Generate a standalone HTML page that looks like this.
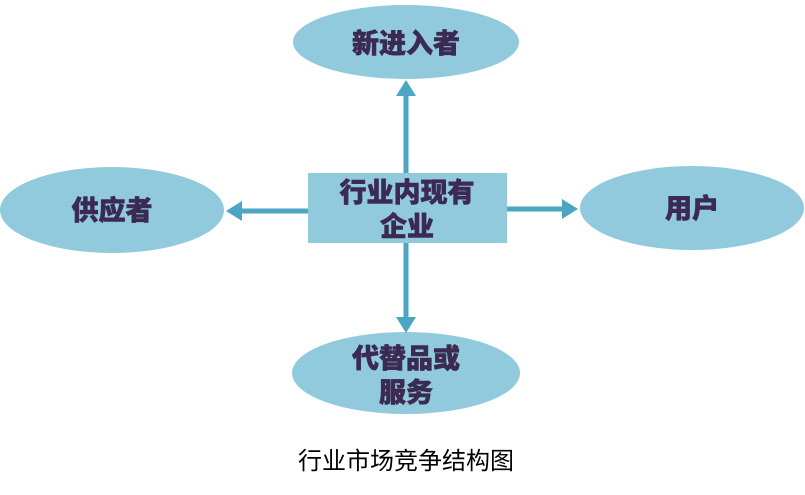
<!DOCTYPE html>
<html><head><meta charset="utf-8"><style>
body{margin:0;background:#fff;width:805px;height:490px;overflow:hidden}
svg text{font-family:"Liberation Sans","Noto Sans CJK SC",sans-serif;font-weight:900;fill:#3b2a52;font-size:27px;text-anchor:middle;stroke:#3b2a52;stroke-width:0.6}
</style></head><body>
<svg width="805" height="490" viewBox="0 0 805 490">
<defs><marker id="a" markerWidth="4" markerHeight="4" refX="2" refY="2" orient="auto" markerUnits="strokeWidth"><path d="M0,0 L3.2,2 L0,4 Z" fill="#4aa6c2"/></marker></defs>
<g fill="#92cadd">
<ellipse cx="406" cy="42" rx="113" ry="37"/>
<ellipse cx="112" cy="210" rx="112" ry="43"/>
<ellipse cx="692" cy="208" rx="112" ry="42"/>
<ellipse cx="406" cy="373" rx="114" ry="41"/>
<rect x="308" y="173" width="199" height="70"/>
</g>
<g stroke="#4aa6c2" stroke-width="5" fill="none">
<line x1="406" y1="173" x2="406" y2="86" marker-end="url(#a)"/>
<line x1="406" y1="243" x2="406" y2="327" marker-end="url(#a)"/>
<line x1="308" y1="211" x2="232" y2="211" marker-end="url(#a)"/>
<line x1="507" y1="209" x2="572" y2="209" marker-end="url(#a)"/>
</g>
<text x="406" y="53">新进入者</text>
<text x="112" y="220">供应者</text>
<text x="692" y="218">用户</text>
<text x="407" y="202">行业内现有</text>
<text x="407" y="236">企业</text>
<text x="406" y="368">代替品或</text>
<text x="406" y="402">服务</text>
<text x="406" y="469" style="font-weight:normal;font-size:24px;fill:#000;stroke:none">行业市场竞争结构图</text>
</svg>
</body></html>
